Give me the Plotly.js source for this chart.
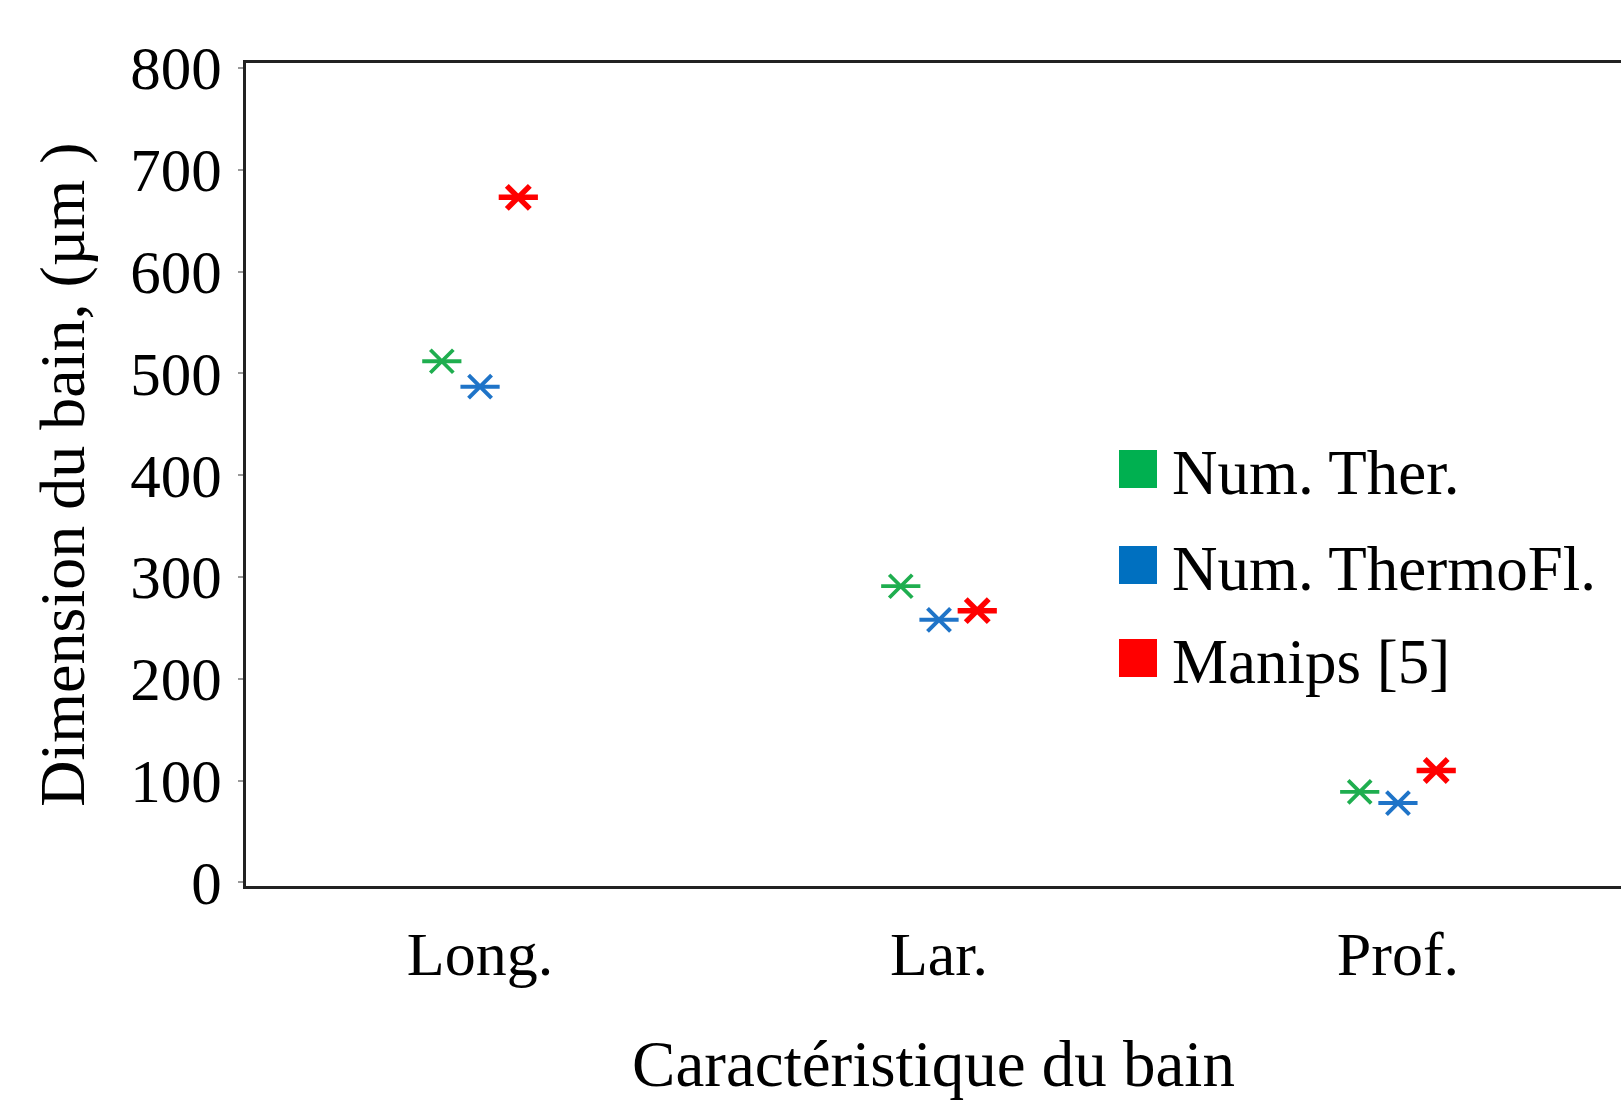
<!DOCTYPE html>
<html>
<head>
<meta charset="utf-8">
<script src="https://cdn.plot.ly/plotly-3.0.1.min.js"></script>
<style>html,body{margin:0;padding:0;background:#fff;}#chart{width:1621px;height:1100px;}</style>
</head>
<body>
<div id="chart"></div>
<script>
// ---- data ----
const categories = ['Long.', 'Lar.', 'Prof.'];
const seriesNames = ['Num. Ther.', 'Num. ThermoFl.', 'Manips [5]'];
const numTher = [512, 291, 89];
const numThermoFl = [487, 258, 78];
const manips = [673, 267, 110];
const yTickVals = [0, 100, 200, 300, 400, 500, 600, 700, 800];
const xTitle = 'Caractéristique du bain';
const yTitle = 'Dimension du bain, (µm )';

// ---- styles ----
const seriesValues = [numTher, numThermoFl, manips];
const colors = ['#1fae4f', '#1f74c8', '#ff0000'];
const legendColors = ['#00b050', '#0070c0', '#ff0000'];
const lineWidths = [3.8, 4, 5.5];
const FONT = 'Liberation Serif, Times New Roman, serif';

const W = 1621, H = 1100;
const M = {l: 246, r: 0, t: 63, b: 214};
const px2x = p => (p - M.l) / (W - M.l - M.r);
const px2y = p => (H - M.b - p) / (H - M.t - M.b);

const traces = [];
seriesValues.forEach((vals, i) => {
  ['x-thin-open', 'line-ew-open'].forEach((sym, k) => {
    traces.push({
      type: 'scatter', mode: 'markers',
      x: categories, y: vals,
      name: seriesNames[i],
      offsetgroup: 'g' + i,
      showlegend: false,
      hoverinfo: 'x+y+name',
      marker: {
        symbol: sym,
        size: k === 0 ? 23 : 28,
        color: colors[i],
        line: {color: colors[i], width: lineWidths[i]}
      }
    });
  });
});

// custom legend (large square swatches)
const legendRowsPx = [469, 565, 658];
const shapes = [], annotations = [];
seriesNames.forEach((nm, i) => {
  const cy = legendRowsPx[i];
  shapes.push({
    type: 'rect', xref: 'paper', yref: 'paper',
    x0: px2x(1119), x1: px2x(1157), y0: px2y(cy + 19), y1: px2y(cy - 19),
    fillcolor: legendColors[i], line: {width: 0}
  });
  annotations.push({
    xref: 'paper', yref: 'paper', x: px2x(1170), y: px2y(cy + 4),
    xanchor: 'left', yanchor: 'middle', showarrow: false,
    text: nm, font: {family: FONT, size: 63, color: '#000'}
  });
});

const layout = {
  width: W, height: H,
  margin: M,
  paper_bgcolor: '#fff', plot_bgcolor: '#fff',
  showlegend: false,
  scattermode: 'group',
  scattergap: 0.75,
  font: {family: FONT, color: '#000'},
  xaxis: {
    type: 'category',
    range: [-0.51, 2.486],
    showgrid: false, zeroline: false,
    showline: true, linecolor: '#222', linewidth: 3, mirror: true,
    ticks: '', ticklabelstandoff: 12,
    tickfont: {family: FONT, size: 62, color: '#000'},
    title: {text: xTitle, font: {family: FONT, size: 65, color: '#000'}, standoff: 55}
  },
  yaxis: {
    range: [-3.5, 805],
    tickvals: yTickVals,
    showgrid: false, zeroline: false,
    showline: true, linecolor: '#222', linewidth: 3, mirror: false,
    ticks: 'outside', ticklen: 5, tickcolor: '#999', tickwidth: 1.5,
    ticklabelstandoff: 4,
    tickfont: {family: FONT, size: 61, color: '#000'},
    title: {text: yTitle, font: {family: FONT, size: 64, color: '#000'}, standoff: 25}
  },
  shapes: shapes,
  annotations: annotations
};

Plotly.newPlot('chart', traces, layout, {displayModeBar: false, staticPlot: false});
</script>
</body>
</html>
